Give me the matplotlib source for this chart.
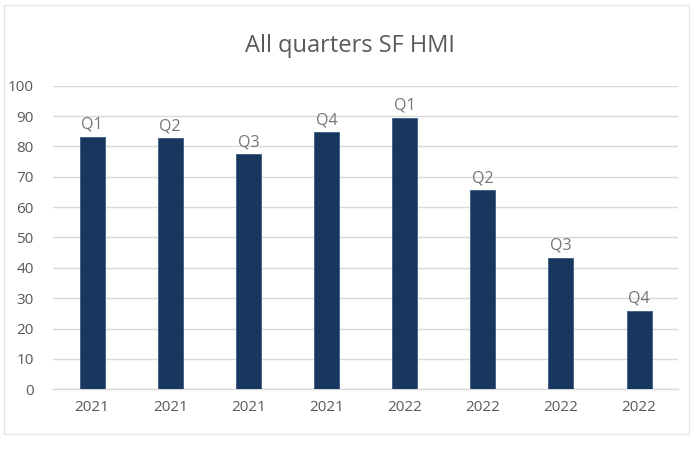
import matplotlib
matplotlib.use("Agg")
import matplotlib.pyplot as plt
from matplotlib.patches import Rectangle
import numpy as np

years = ["2021", "2021", "2021", "2021", "2022", "2022", "2022", "2022"]
quarters = ["Q1", "Q2", "Q3", "Q4", "Q1", "Q2", "Q3", "Q4"]
values = [83.2, 82.7, 77.4, 84.6, 89.5, 65.5, 43.2, 25.9]
yticks = [0, 10, 20, 30, 40, 50, 60, 70, 80, 90, 100]
title = "All quarters SF HMI"

plt.rcParams['font.family'] = ['Open Sans', 'DejaVu Sans']
text_color = "#595959"
label_color = "#757575"
bar_color = "#17375E"
grid_color = "#D9D9D9"

fig = plt.figure(figsize=(7, 4.5), dpi=100)
fig.patches.append(Rectangle((0.006, 0.035), 0.978, 0.955, transform=fig.transFigure,
                             fill=False, edgecolor="#E6E6E6", linewidth=1))
ax = fig.add_axes([0.0757, 0.1349, 0.893, 0.6747])

x = np.arange(len(values))
bars = ax.bar(x, values, width=0.32, color=bar_color, edgecolor="#3A5A82", linewidth=0.6, zorder=3)
for rect, q in zip(bars, quarters):
    ax.annotate(q, (rect.get_x() + rect.get_width() / 2, rect.get_height()),
                xytext=(0, 3), textcoords="offset points", ha="center", va="bottom",
                fontsize=11.5, color=label_color)

ax.set_xlim(-0.5, len(values) - 0.5)
ax.set_ylim(0, 100)
ax.set_yticks(yticks)
ax.set_xticks(x)
ax.set_xticklabels(years)
ax.tick_params(axis="both", length=0, labelsize=11, colors=text_color)
ax.tick_params(axis="x", pad=8)
ax.tick_params(axis="y", pad=14)
for lbl in ax.get_yticklabels():
    lbl.set_horizontalalignment("right")
ax.yaxis.grid(True, color=grid_color, linewidth=1, zorder=0)
for s in ["top", "right", "left"]:
    ax.spines[s].set_visible(False)
ax.spines["bottom"].set_color(grid_color)
ax.spines["bottom"].set_linewidth(1)

fig.text(0.5, 0.897, title, ha="center", va="center", fontsize=17, color=text_color)

fig.savefig("out.png", dpi=100)
